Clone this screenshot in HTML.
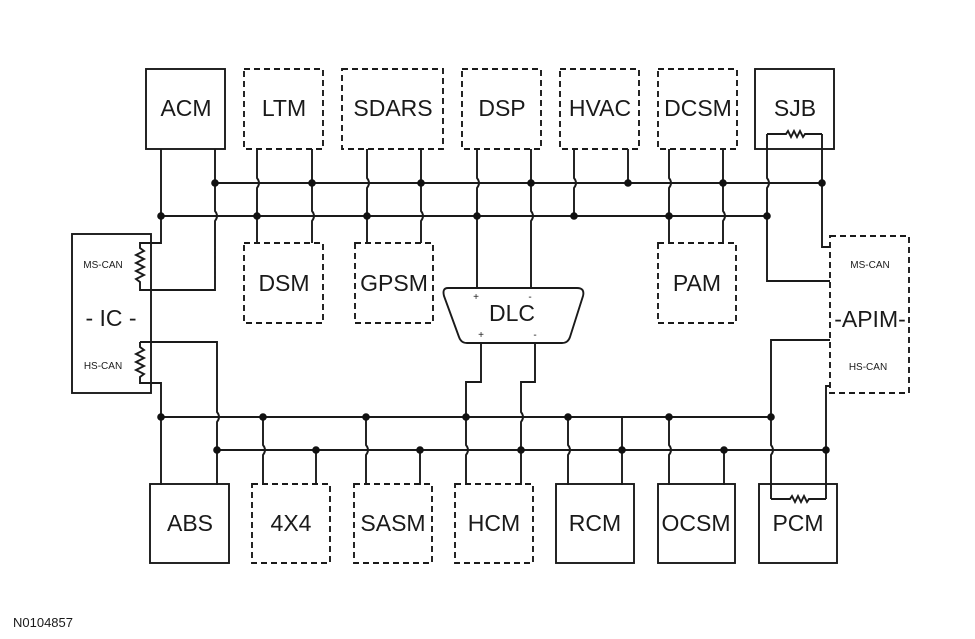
<!DOCTYPE html>
<html><head><meta charset="utf-8"><style>
html,body{margin:0;padding:0;background:#fff}
svg{display:block}
text{font-family:"Liberation Sans",Arial,sans-serif;fill:#1a1a1a}
</style></head><body>
<svg width="975" height="639" viewBox="0 0 975 639" xmlns="http://www.w3.org/2000/svg">
<g fill="#fff" stroke="#1a1a1a" stroke-width="1.9">
<rect x="146" y="69" width="79" height="80"/>
<rect x="244" y="69" width="79" height="80" stroke-dasharray="6 4"/>
<rect x="342" y="69" width="101" height="80" stroke-dasharray="6 4"/>
<rect x="462" y="69" width="79" height="80" stroke-dasharray="6 4"/>
<rect x="560" y="69" width="79" height="80" stroke-dasharray="6 4"/>
<rect x="658" y="69" width="79" height="80" stroke-dasharray="6 4"/>
<rect x="755" y="69" width="79" height="80"/>
<rect x="244" y="243" width="79" height="80" stroke-dasharray="6 4"/>
<rect x="355" y="243" width="78" height="80" stroke-dasharray="6 4"/>
<rect x="658" y="243" width="78" height="80" stroke-dasharray="6 4"/>
<rect x="72" y="234" width="79" height="159"/>
<rect x="830" y="236" width="79" height="157" stroke-dasharray="6 4"/>
<rect x="150" y="484" width="79" height="79"/>
<rect x="252" y="484" width="78" height="79" stroke-dasharray="6 4"/>
<rect x="354" y="484" width="78" height="79" stroke-dasharray="6 4"/>
<rect x="455" y="484" width="78" height="79" stroke-dasharray="6 4"/>
<rect x="556" y="484" width="78" height="79"/>
<rect x="658" y="484" width="77" height="79"/>
<rect x="759" y="484" width="78" height="79"/>
<path d="M448 288 H577 Q585 288 583 296 L570 337 Q568 343 562 343 H467 Q461 343 459 337 L444 296 Q442 288 448 288 Z"/>
</g>
<g fill="none" stroke="#1a1a1a" stroke-width="1.9">
<path d="M215 183 H822 M161 216 H767 M161 417 H771 M217 450 H826"/>
<path d="M161 149 V243 H140 V248 l4 3 -8 4 8 4 -8 4 8 4 -8 4 8 4 -8 4 4 3 V290 H215 V221 q4 -5 0 -10 V149"/>
<path d="M257 149 V178 q4 5 0 10 V243"/>
<path d="M312 149 V211 q4 5 0 10 V243"/>
<path d="M367 149 V178 q4 5 0 10 V243"/>
<path d="M421 149 V211 q4 5 0 10 V243"/>
<path d="M477 149 V178 q4 5 0 10 V289"/>
<path d="M531 149 V211 q4 5 0 10 V289"/>
<path d="M574 149 V178 q4 5 0 10 V216"/>
<path d="M628 149 V183"/>
<path d="M669 149 V178 q4 5 0 10 V243"/>
<path d="M723 149 V211 q4 5 0 10 V243"/>
<path d="M822 134 V247 H830"/>
<path d="M767 134 V178 q4 5 0 10 V281 H830"/>
<path d="M767 134 H786 l2 -3 3 6 3 -6 3 6 3 -6 3 6 2 -3 H822"/>
<path d="M140 342 H217 V412 q4 5 0 10 V485"/>
<path d="M140 342 V347 l4 3 -8 4 8 4 -8 4 8 4 -8 4 8 4 -4 3 V383 H161 V485"/>
<path d="M263 417 V445 q4 5 0 10 V485"/>
<path d="M316 450 V485"/>
<path d="M366 417 V445 q4 5 0 10 V485"/>
<path d="M420 450 V485"/>
<path d="M481 343 V382 H466 V445 q4 5 0 10 V485"/>
<path d="M535 343 V382 H521 V412 q4 5 0 10 V485"/>
<path d="M568 417 V445 q4 5 0 10 V485"/>
<path d="M622 417 V485"/>
<path d="M669 417 V445 q4 5 0 10 V485"/>
<path d="M724 450 V485"/>
<path d="M830 340 H771 V445 q4 5 0 10 V499"/>
<path d="M830 386 H826 V499"/>
<path d="M771 499 H790 l2 -3 3 6 3 -6 3 6 3 -6 3 6 2 -3 H826"/>
</g>
<g fill="#111">
<circle cx="161" cy="216" r="3.8"/><circle cx="215" cy="183" r="3.8"/>
<circle cx="257" cy="216" r="3.8"/><circle cx="312" cy="183" r="3.8"/>
<circle cx="367" cy="216" r="3.8"/><circle cx="421" cy="183" r="3.8"/>
<circle cx="477" cy="216" r="3.8"/><circle cx="531" cy="183" r="3.8"/>
<circle cx="574" cy="216" r="3.8"/><circle cx="628" cy="183" r="3.8"/>
<circle cx="669" cy="216" r="3.8"/><circle cx="723" cy="183" r="3.8"/>
<circle cx="767" cy="216" r="3.8"/><circle cx="822" cy="183" r="3.8"/>
<circle cx="161" cy="417" r="3.8"/><circle cx="217" cy="450" r="3.8"/>
<circle cx="263" cy="417" r="3.8"/><circle cx="316" cy="450" r="3.8"/>
<circle cx="366" cy="417" r="3.8"/><circle cx="420" cy="450" r="3.8"/>
<circle cx="466" cy="417" r="3.8"/><circle cx="521" cy="450" r="3.8"/>
<circle cx="568" cy="417" r="3.8"/><circle cx="622" cy="450" r="3.8"/>
<circle cx="669" cy="417" r="3.8"/><circle cx="724" cy="450" r="3.8"/>
<circle cx="771" cy="417" r="3.8"/><circle cx="826" cy="450" r="3.8"/>
</g>
<g font-size="23" text-anchor="middle">
<text x="186" y="116">ACM</text><text x="284" y="116">LTM</text>
<text x="393" y="116">SDARS</text><text x="502" y="116">DSP</text>
<text x="600" y="116">HVAC</text><text x="698" y="116">DCSM</text>
<text x="795" y="116">SJB</text>
<text x="284" y="291">DSM</text><text x="394" y="291">GPSM</text>
<text x="697" y="291">PAM</text>
<text x="512" y="321">DLC</text>
<text x="111" y="326">- IC -</text>
<text x="870" y="327">-APIM-</text>
<text x="190" y="531">ABS</text><text x="291" y="531">4X4</text>
<text x="393" y="531">SASM</text><text x="494" y="531">HCM</text>
<text x="595" y="531">RCM</text><text x="696" y="531">OCSM</text>
<text x="798" y="531">PCM</text>
</g>
<g font-size="10" text-anchor="middle">
<text x="103" y="268">MS-CAN</text><text x="103" y="369">HS-CAN</text>
<text x="870" y="268">MS-CAN</text><text x="868" y="370">HS-CAN</text>
<text x="476" y="300">+</text><text x="530" y="300">-</text>
<text x="481" y="338">+</text><text x="535" y="338">-</text>
</g>
<text x="13" y="627" font-size="13">N0104857</text>
</svg>
</body></html>
